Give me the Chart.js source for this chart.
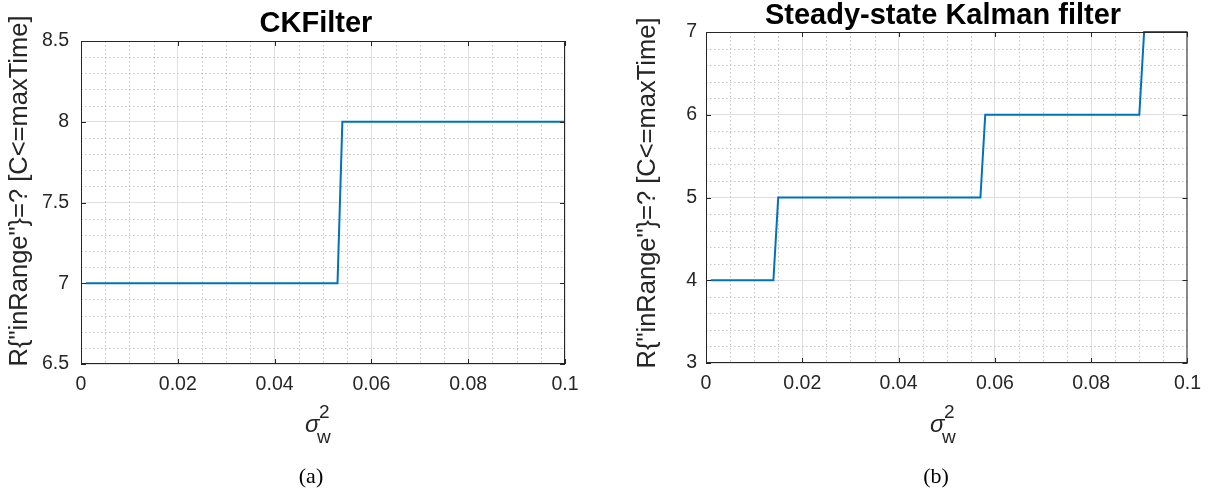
<!DOCTYPE html>
<html>
<head>
<meta charset="utf-8">
<script src="https://cdn.jsdelivr.net/npm/chart.js@4.4.0/dist/chart.umd.min.js"></script>
<style>
  html, body { margin: 0; padding: 0; background: #fff; width: 1210px; height: 496px; overflow: hidden; }
  canvas { position: absolute; top: 0; }
  #chartA { left: 0; }
  #chartB { left: 620px; }
</style>
</head>
<body>
<canvas id="chartA" width="620" height="496"></canvas>
<canvas id="chartB" width="590" height="496"></canvas>
<script>
// (a) CKFilter: reward vs. process noise variance
const noiseA  = [0.001, 0.053, 0.054, 0.1];
const rewardA = [7, 7, 8, 8];

// (b) Steady-state Kalman filter
const noiseB  = [0.001, 0.014, 0.015, 0.057, 0.058, 0.090, 0.091, 0.1];
const rewardB = [4, 4, 5, 5, 6, 6, 7, 7];

// axis ticks
const xTicks       = [0, 0.02, 0.04, 0.06, 0.08, 0.1];
const xTickLabels  = ['0', '0.02', '0.04', '0.06', '0.08', '0.1'];
const yTicksA      = [6.5, 7, 7.5, 8, 8.5];
const yTickLabelsA = ['6.5', '7', '7.5', '8', '8.5'];
const yTicksB      = [3, 4, 5, 6, 7];
const yTickLabelsB = ['3', '4', '5', '6', '7'];

// texts
const titles   = ['CKFilter', 'Steady-state Kalman filter'];
const yTitle   = 'R{"inRange"}=? [C<=maxTime]';
const captions = ['(a)', '(b)'];

const INK = '#262626';
const LINE_BLUE = '#0072BD';
const SANS = '"Liberation Sans", Arial, Helvetica, sans-serif';
const SERIF = '"Liberation Serif", "Times New Roman", serif';

// values between major ticks, split into n parts
function minorValues(ticks, n) {
  const out = [];
  for (let i = 0; i < ticks.length - 1; i++) {
    const step = (ticks[i + 1] - ticks[i]) / n;
    for (let k = 1; k < n; k++) out.push(ticks[i] + k * step);
  }
  return out;
}

function framePlugin(cfg) {
  return {
    id: 'frame',
    beforeDatasetsDraw(chart) {
      const { ctx, chartArea: a, scales: { x, y } } = chart;
      ctx.save();
      ctx.strokeStyle = '#c4c4c4';
      ctx.lineWidth = 1;
      ctx.setLineDash([1.5, 2.5]);
      ctx.beginPath();
      minorValues(xTicks, 4).forEach(v => {
        const px = Math.round(x.getPixelForValue(v)) + 0.5;
        ctx.moveTo(px, a.top); ctx.lineTo(px, a.bottom);
      });
      minorValues(cfg.yTicks, 5).forEach(v => {
        const py = Math.round(y.getPixelForValue(v)) + 0.5;
        ctx.moveTo(a.left, py); ctx.lineTo(a.right, py);
      });
      ctx.stroke();
      ctx.restore();
    },
    afterDatasetsDraw(chart) {
      const { ctx, chartArea: a, scales: { x, y } } = chart;
      const tl = 5;
      ctx.save();
      ctx.strokeStyle = INK;
      ctx.lineWidth = 1;
      ctx.setLineDash([]);
      ctx.strokeRect(a.left + 0.5, a.top + 0.5, a.right - a.left - 1, a.bottom - a.top - 1);
      ctx.beginPath();
      xTicks.forEach(v => {
        const px = Math.round(x.getPixelForValue(v)) + 0.5;
        ctx.moveTo(px, a.bottom); ctx.lineTo(px, a.bottom - tl);
        ctx.moveTo(px, a.top); ctx.lineTo(px, a.top + tl);
      });
      cfg.yTicks.forEach(v => {
        const py = Math.round(y.getPixelForValue(v)) + 0.5;
        ctx.moveTo(a.left, py); ctx.lineTo(a.left + tl, py);
        ctx.moveTo(a.right, py); ctx.lineTo(a.right - tl, py);
      });
      ctx.stroke();
      ctx.restore();
    },
    afterDraw(chart) {
      const ctx = chart.ctx;
      ctx.save();
      // title
      ctx.fillStyle = '#000';
      ctx.font = 'bold 29px ' + SANS;
      ctx.textAlign = 'center';
      ctx.textBaseline = 'alphabetic';
      ctx.fillText(cfg.title, cfg.titleX, cfg.titleY);
      // y-axis label
      ctx.fillStyle = INK;
      ctx.font = '25.5px ' + SANS;
      ctx.save();
      ctx.translate(cfg.yLabelX, cfg.yLabelY);
      ctx.rotate(-Math.PI / 2);
      ctx.fillText(yTitle, 0, 0);
      ctx.restore();
      // x-axis label: sigma_w^2
      ctx.textAlign = 'left';
      ctx.font = 'italic 24px ' + SANS;
      ctx.fillText('\u03C3', cfg.sigmaX, 432);
      ctx.font = '19px ' + SANS;
      ctx.fillText('2', cfg.sigmaX + 14, 418);
      ctx.fillText('w', cfg.sigmaX + 12, 443);
      // caption
      ctx.fillStyle = '#000';
      ctx.font = '22px ' + SERIF;
      ctx.textAlign = 'center';
      ctx.fillText(cfg.caption, cfg.captionX, 483);
      ctx.restore();
    }
  };
}

function makeChart(canvasId, xs, ys, cfg) {
  const points = xs.map((v, i) => ({ x: v, y: ys[i] }));
  return new Chart(document.getElementById(canvasId), {
    type: 'line',
    data: {
      datasets: [{
        data: points,
        borderColor: LINE_BLUE,
        borderWidth: 2,
        pointRadius: 0,
        tension: 0,
        fill: false,
        clip: 4
      }]
    },
    options: {
      responsive: false,
      animation: false,
      events: [],
      layout: { padding: { top: cfg.top, right: cfg.padRight, left: 0, bottom: 0 } },
      plugins: { legend: { display: false }, tooltip: { enabled: false }, title: { display: false } },
      scales: {
        x: {
          type: 'linear',
          min: 0, max: 0.1,
          afterBuildTicks: s => { s.ticks = xTicks.map(v => ({ value: v })); },
          afterFit: s => { s.height = cfg.xAxisHeight; },
          ticks: {
            callback: (v, i) => xTickLabels[i],
            color: INK,
            font: { family: SANS, size: 19.5 },
            padding: 9,
            maxRotation: 0,
            autoSkip: false
          },
          grid: { color: '#dfdfdf', lineWidth: 1, drawTicks: false },
          border: { display: false }
        },
        y: {
          type: 'linear',
          min: cfg.yTicks[0], max: cfg.yTicks[cfg.yTicks.length - 1],
          afterBuildTicks: s => { s.ticks = cfg.yTicks.map(v => ({ value: v })); },
          afterFit: s => { s.width = cfg.yAxisWidth; },
          ticks: {
            callback: (v, i) => cfg.yLabels[i],
            color: INK,
            font: { family: SANS, size: 19.5 },
            padding: cfg.yPad,
            autoSkip: false
          },
          grid: { color: '#dfdfdf', lineWidth: 1, drawTicks: false },
          border: { display: false }
        }
      }
    },
    plugins: [framePlugin(cfg)]
  });
}

makeChart('chartA', noiseA, rewardA, {
  yTicks: yTicksA, yLabels: yTickLabelsA,
  top: 41, padRight: 55, xAxisHeight: 132, yAxisWidth: 81, yPad: 12,
  title: titles[0], titleX: 316, titleY: 32,
  yLabelX: 27, yLabelY: 191,
  sigmaX: 305, caption: captions[0], captionX: 311
});

makeChart('chartB', noiseB, rewardB, {
  yTicks: yTicksB, yLabels: yTickLabelsB,
  top: 32, padRight: 22, xAxisHeight: 133, yAxisWidth: 86, yPad: 9,
  title: titles[1], titleX: 323, titleY: 24,
  yLabelX: 35, yLabelY: 193,
  sigmaX: 310, caption: captions[1], captionX: 316
});
</script>
</body>
</html>
